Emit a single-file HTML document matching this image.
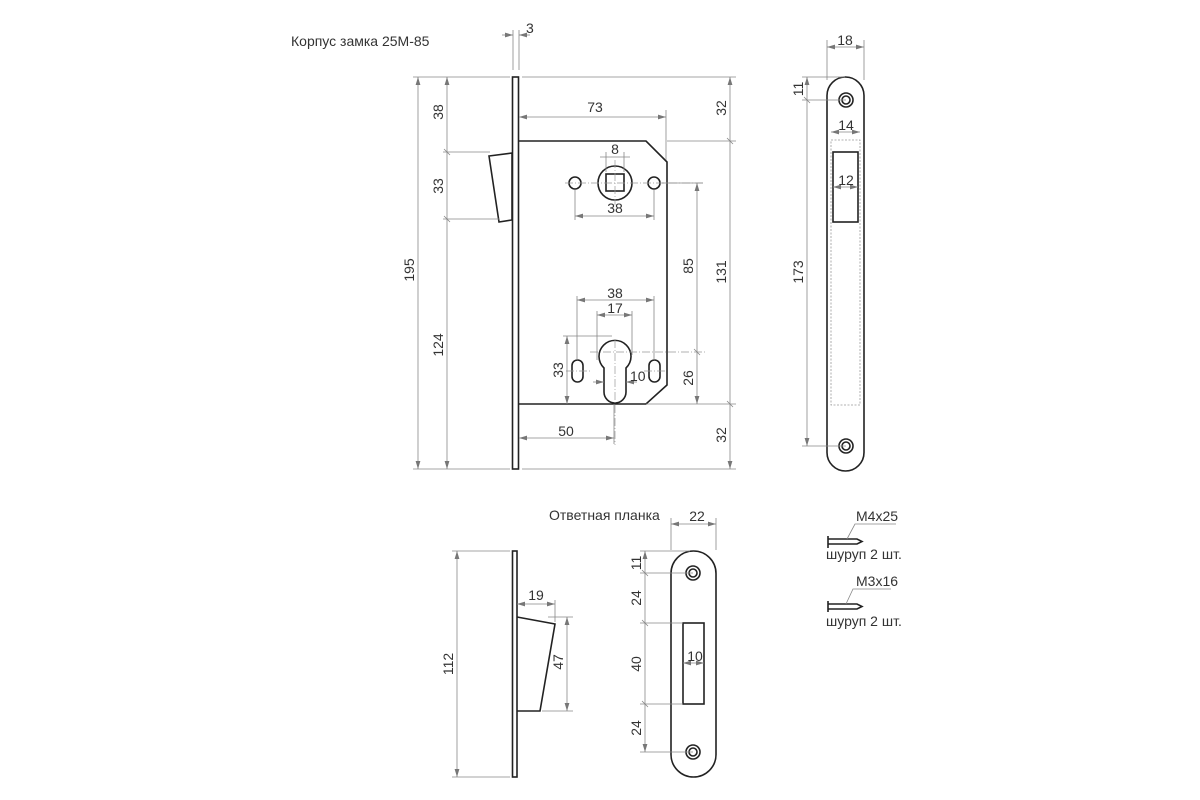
<!DOCTYPE html>
<html><head><meta charset="utf-8"><style>
html,body{margin:0;padding:0;background:#fff}
svg{display:block}
text{font-family:"Liberation Sans Narrow","Liberation Sans","DejaVu Sans Condensed",sans-serif;font-size:14px;fill:#333}
.d{stroke:#888;stroke-width:0.8;fill:none}
.o{stroke:#222;stroke-width:1.6;fill:none}
.c{stroke:#999;stroke-width:0.7;fill:none;stroke-dasharray:8 2 1 2}
.h{stroke:#999;stroke-width:0.8;fill:none;stroke-dasharray:2 1.5}
</style></head><body>
<svg width="1200" height="800" viewBox="0 0 1200 800" xmlns="http://www.w3.org/2000/svg">
<defs>
<marker id="a" viewBox="0 0 10 6" refX="10" refY="3" markerWidth="8" markerHeight="5" orient="auto-start-reverse" markerUnits="userSpaceOnUse"><path d="M0,0 L10,3 L0,6 Z" fill="#777"/></marker>
</defs>

<text x="291" y="46">Корпус замка 25М-85</text>

<rect x="512.5" y="77" width="6" height="392" class="o"/>
<path class="o" d="M519,141 L646,141 L667,162 L667,385 L646,404 L519,404"/>
<path class="o" d="M489,156 L512,153 L512,220 L499,222 Z"/>
<circle cx="615" cy="183" r="17" class="o" stroke-width="1.3"/>
<rect x="606" y="174" width="18" height="17" class="o" stroke-width="1.3"/>
<circle cx="575" cy="183" r="6" class="o" stroke-width="1.3"/>
<circle cx="654" cy="183" r="6" class="o" stroke-width="1.3"/>
<path class="o" d="M604,368 A16,16 0 1 1 626,368 L626,392 A11,11 0 0 1 604,392 Z"/>
<rect x="572" y="360" width="11" height="22" rx="5.5" class="o" stroke-width="1.3"/>
<rect x="649" y="360" width="11" height="22" rx="5.5" class="o" stroke-width="1.3"/>
<path class="c" d="M565,183 L705,183 M615,160 L615,205"/>
<path class="c" d="M615,340 L615,445 M590,352 L705,352 M566,371 L590,371 M644,371 L666,371"/>

<path class="d" d="M513,30 V70 M519,30 V70"/>
<line class="d" x1="502" y1="35" x2="513" y2="35" marker-end="url(#a)"/>
<line class="d" x1="530" y1="35" x2="519" y2="35" marker-end="url(#a)"/>
<text x="526" y="33">3</text>

<path class="d" d="M413,77 H510 M413,469 H510 M443,152 H490 M443,219 H499"/>
<line class="d" x1="418" y1="77" x2="418" y2="469" marker-start="url(#a)" marker-end="url(#a)"/>
<line class="d" x1="447" y1="77" x2="447" y2="469" marker-start="url(#a)" marker-end="url(#a)"/>
<path class="d" d="M444,149 L450,155 M444,216 L450,222"/>
<text transform="translate(414,270) rotate(-90)" text-anchor="middle">195</text>
<text transform="translate(443,112) rotate(-90)" text-anchor="middle">38</text>
<text transform="translate(443,186) rotate(-90)" text-anchor="middle">33</text>
<text transform="translate(443,345) rotate(-90)" text-anchor="middle">124</text>

<path class="d" d="M666,110 V160"/>
<line class="d" x1="519" y1="117" x2="666" y2="117" marker-start="url(#a)" marker-end="url(#a)"/>
<text x="595" y="112" text-anchor="middle">73</text>

<path class="d" d="M522,77 H736 M667,141 H736 M646,404 H736 M522,469 H736"/>
<line class="d" x1="730" y1="77" x2="730" y2="469" marker-start="url(#a)" marker-end="url(#a)"/>
<path class="d" d="M727,138 L733,144 M727,401 L733,407"/>
<text transform="translate(726,108) rotate(-90)" text-anchor="middle">32</text>
<text transform="translate(726,272) rotate(-90)" text-anchor="middle">131</text>
<text transform="translate(726,435) rotate(-90)" text-anchor="middle">32</text>

<path class="d" d="M662,183 H703"/>
<line class="d" x1="697" y1="183" x2="697" y2="404" marker-start="url(#a)" marker-end="url(#a)"/>
<path class="d" d="M694,349 L700,355"/>
<text transform="translate(693,266) rotate(-90)" text-anchor="middle">85</text>
<text transform="translate(693,378) rotate(-90)" text-anchor="middle">26</text>

<path class="d" d="M606,152 V172 M624,152 V172"/>
<line class="d" x1="600" y1="157" x2="630" y2="157"/>
<text x="615" y="154" text-anchor="middle">8</text>

<path class="d" d="M575,190 V220 M654,190 V220"/>
<line class="d" x1="575" y1="216" x2="654" y2="216" marker-start="url(#a)" marker-end="url(#a)"/>
<text x="615" y="213" text-anchor="middle">38</text>

<path class="d" d="M577,296 V360 M654,296 V360"/>
<line class="d" x1="577" y1="300" x2="654" y2="300" marker-start="url(#a)" marker-end="url(#a)"/>
<text x="615" y="298" text-anchor="middle">38</text>
<path class="d" d="M597,311 V360 M632,311 V355"/>
<line class="d" x1="597" y1="315" x2="632" y2="315" marker-start="url(#a)" marker-end="url(#a)"/>
<text x="615" y="313" text-anchor="middle">17</text>
<path class="d" d="M563,336 H612"/>
<line class="d" x1="567" y1="336" x2="567" y2="404" marker-start="url(#a)" marker-end="url(#a)"/>
<text transform="translate(563,370) rotate(-90)" text-anchor="middle">33</text>
<line class="d" x1="593" y1="382" x2="604" y2="382" marker-end="url(#a)"/>
<line class="d" x1="637" y1="382" x2="626" y2="382" marker-end="url(#a)"/>
<text x="630" y="381">10</text>
<path class="d" d="M614,404 V444"/>
<line class="d" x1="519" y1="438" x2="614" y2="438" marker-start="url(#a)" marker-end="url(#a)"/>
<text x="566" y="436" text-anchor="middle">50</text>

<rect x="827" y="77" width="37" height="394" rx="18.5" class="o"/>
<circle cx="846" cy="100" r="7" class="o" stroke-width="1.2"/><circle cx="846" cy="100" r="4" class="o" stroke-width="1"/>
<circle cx="846" cy="446" r="7" class="o" stroke-width="1.2"/><circle cx="846" cy="446" r="4" class="o" stroke-width="1"/>
<rect x="831" y="140" width="29" height="265" class="h"/>
<rect x="833" y="152" width="25" height="70" class="o" stroke-width="1.3"/>
<path class="d" d="M827,40 V80 M864,40 V80"/>
<line class="d" x1="827" y1="47" x2="864" y2="47" marker-start="url(#a)" marker-end="url(#a)"/>
<text x="845" y="45" text-anchor="middle">18</text>
<line class="d" x1="831" y1="132" x2="860" y2="132" marker-start="url(#a)" marker-end="url(#a)"/>
<text x="846" y="130" text-anchor="middle">14</text>
<line class="d" x1="833" y1="187" x2="858" y2="187" marker-start="url(#a)" marker-end="url(#a)"/>
<text x="846" y="185" text-anchor="middle">12</text>
<path class="d" d="M802,77 H845 M802,100 H846 M802,446 H846"/>
<line class="d" x1="807" y1="77" x2="807" y2="446" marker-start="url(#a)" marker-end="url(#a)"/>
<path class="d" d="M804,97 L810,103"/>
<text transform="translate(803,89) rotate(-90)" text-anchor="middle">11</text>
<text transform="translate(803,272) rotate(-90)" text-anchor="middle">173</text>

<text x="549" y="520">Ответная планка</text>

<rect x="512.5" y="551" width="4.5" height="226" class="o"/>
<path class="o" d="M517,617 L555,624 L540,711 L517,711"/>
<path class="d" d="M452,551 H510 M452,777 H510"/>
<line class="d" x1="457" y1="551" x2="457" y2="777" marker-start="url(#a)" marker-end="url(#a)"/>
<text transform="translate(453,664) rotate(-90)" text-anchor="middle">112</text>
<path class="d" d="M555,600 V622 M548,617 H573 M542,711 H573"/>
<line class="d" x1="517" y1="604" x2="555" y2="604" marker-start="url(#a)" marker-end="url(#a)"/>
<text x="536" y="600" text-anchor="middle">19</text>
<line class="d" x1="567" y1="617" x2="567" y2="711" marker-start="url(#a)" marker-end="url(#a)"/>
<text transform="translate(563,662) rotate(-90)" text-anchor="middle">47</text>

<rect x="671" y="551" width="45" height="226" rx="22.5" class="o"/>
<circle cx="693" cy="573" r="7" class="o" stroke-width="1.2"/><circle cx="693" cy="573" r="4" class="o" stroke-width="1"/>
<circle cx="693" cy="752" r="7" class="o" stroke-width="1.2"/><circle cx="693" cy="752" r="4" class="o" stroke-width="1"/>
<rect x="683" y="623" width="21" height="81" class="o" stroke-width="1.3"/>
<path class="d" d="M671,518 V550 M716,518 V550"/>
<line class="d" x1="671" y1="524" x2="716" y2="524" marker-start="url(#a)" marker-end="url(#a)"/>
<text x="697" y="521" text-anchor="middle">22</text>
<line class="d" x1="683" y1="663" x2="704" y2="663" marker-start="url(#a)" marker-end="url(#a)"/>
<text x="695" y="661" text-anchor="middle">10</text>
<path class="d" d="M640,551 H690 M640,573 H693 M640,623 H683 M640,704 H683 M640,752 H693"/>
<line class="d" x1="645" y1="551" x2="645" y2="752" marker-start="url(#a)" marker-end="url(#a)"/>
<path class="d" d="M642,570 L648,576 M642,620 L648,626 M642,701 L648,707"/>
<text transform="translate(641,563) rotate(-90)" text-anchor="middle">11</text>
<text transform="translate(641,598) rotate(-90)" text-anchor="middle">24</text>
<text transform="translate(641,664) rotate(-90)" text-anchor="middle">40</text>
<text transform="translate(641,728) rotate(-90)" text-anchor="middle">24</text>

<path class="o" stroke-width="1.1" d="M828,536 V548 M828,539 H857 L862,541.5 L857,544 H828"/>
<path class="d" d="M847,539 L855,524 H896"/>
<text x="856" y="521">M4x25</text>
<text x="826" y="559">шуруп 2 шт.</text>
<path class="o" stroke-width="1.1" d="M828,601 V612 M828,604 H857 L862,606.5 L857,609 H828"/>
<path class="d" d="M846,604 L853,589 H891"/>
<text x="856" y="586">M3x16</text>
<text x="826" y="626">шуруп 2 шт.</text>
</svg>
</body></html>
